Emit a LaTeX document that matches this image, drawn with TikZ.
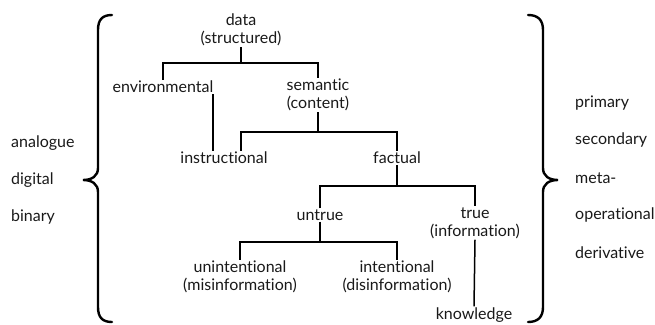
\documentclass[tikz,border=0pt]{standalone}
\usepackage{fontspec}
\setmainfont{Lato}[RawFeature={-liga}]
\begin{document}
\begin{tikzpicture}[x=1pt,y=-1pt,
  lbl/.style={font=\fontsize{16}{18}\selectfont, align=center, inner sep=1pt, text=black!90},
  side/.style={font=\fontsize{16}{18}\selectfont, anchor=west, inner sep=0pt, text=black!90},
  tree/.style={line width=1.5pt},
  brace/.style={line width=2.4pt, line cap=round}]
\useasboundingbox (0,0) rectangle (655,324);

% nodes
\node[lbl] (data) at (241,30) {data\\(structured)};
\node[lbl] (env) at (163,87) {environmental};
\node[lbl] (sem) at (318,95) {semantic\\(content)};
\node[lbl] (instr) at (224,158) {instructional};
\node[lbl] (fact) at (397,158) {factual};
\node[lbl] (untrue) at (320,215) {untrue};
\node[lbl] (true) at (475,223) {true\\(information)};
\node[lbl] (unint) at (240,277) {unintentional\\(misinformation)};
\node[lbl] (int) at (397,277) {intentional\\(disinformation)};
\node[lbl] (know) at (474,315) {knowledge};

% side labels
\node[side] (l1) at (11,143) {analogue};
\node[side] (l2) at (11,180) {digital};
\node[side] (l3) at (11,217) {binary};
\node[side] (r1) at (575,103) {primary};
\node[side] (r2) at (575,140) {secondary};
\node[side] (r3) at (575,178) {meta-};
\node[side] (r4) at (575,215) {operational};
\node[side] (r5) at (575,253) {derivative};

% bar coordinates
\coordinate (b1) at (241,63);
\coordinate (b2) at (321,132);
\coordinate (b3) at (398,186);
\coordinate (b4) at (322,242);
\coordinate (envx) at (213,0);
\coordinate (instrx) at (241,0);

% connectors
\draw[tree] (data.south) -- (data.south |- b1);
\draw[tree] (env.north) |- (b1) -| (sem.north);
\draw[tree] (env.south -| envx) -- (instr.north -| envx);
\draw[tree] (sem.south) -- (sem.south |- b2);
\draw[tree] (instr.north -| instrx) |- (b2) -| (fact.north);
\draw[tree] (fact.south) -- (fact.south |- b3);
\draw[tree] (untrue.north) |- (b3) -| (true.north);
\draw[tree] (untrue.south) -- (untrue.south |- b4);
\draw[tree] (unint.north) |- (b4) -| (int.north);
\draw[tree] (true.south) -- (know.north);

% braces
\draw[brace] (112,15) .. controls (102,15) and (98,20) .. (98,30)
  -- (98,168) .. controls (98,176) and (92,180) .. (83,180)
  .. controls (92,180) and (98,184) .. (98,192)
  -- (98,307) .. controls (98,317) and (102,322) .. (112,322);
\draw[brace] (528,15) .. controls (538,15) and (543,20) .. (543,30)
  -- (543,168) .. controls (543,176) and (549,180) .. (558,180)
  .. controls (549,180) and (543,184) .. (543,192)
  -- (543,307) .. controls (543,317) and (538,322) .. (528,322);
\end{tikzpicture}
\end{document}
